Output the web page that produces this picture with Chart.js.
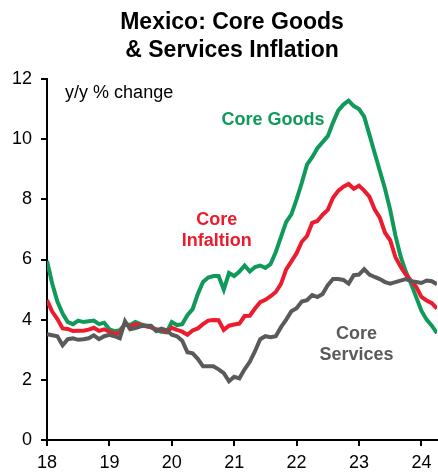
<!DOCTYPE html>
<html>
<head>
<meta charset="utf-8">
<script src="https://cdn.jsdelivr.net/npm/chart.js@4"></script>
<style>
  body { margin: 0; background: #fff; }
  #wrap { width: 438px; height: 472px; }
</style>
</head>
<body>
<div id="wrap"><canvas id="chart"></canvas></div>
<script>
// monthly, Jan 2018 .. Apr 2024 (y/y % change)
const startYear = 18;
const yearTicks = [18, 19, 20, 21, 22, 23, 24];
const yTicks = [0, 2, 4, 6, 8, 10, 12];

const coreGoods = [
  5.95, 5.20, 4.60, 4.20, 3.92, 3.85, 3.97, 3.92, 3.95, 3.97, 3.85, 3.90,
  3.68, 3.62, 3.65, 3.85, 3.82, 3.92, 3.85, 3.80, 3.75, 3.65, 3.60, 3.58,
  3.92, 3.82, 3.85, 4.15, 4.35, 4.85, 5.25, 5.40, 5.45, 5.45, 5.00, 5.55,
  5.45, 5.60, 5.80, 5.60, 5.75, 5.80, 5.72, 5.85, 6.25, 6.75, 7.25, 7.50,
  8.00, 8.55, 9.15, 9.40, 9.70, 9.90, 10.10, 10.55, 10.95, 11.15, 11.28, 11.10,
  11.00, 10.75, 10.15, 9.55, 8.95, 8.35, 7.65, 6.80, 6.10, 5.60, 5.20, 4.75,
  4.30, 4.00, 3.80, 3.55
];
const coreInflation = [
  4.65, 4.27, 4.02, 3.71, 3.69, 3.62, 3.63, 3.63, 3.67, 3.73, 3.63, 3.68,
  3.60, 3.54, 3.55, 3.87, 3.77, 3.85, 3.82, 3.78, 3.75, 3.68, 3.65, 3.59,
  3.73, 3.66, 3.60, 3.50, 3.64, 3.71, 3.85, 3.97, 3.99, 3.98, 3.66, 3.80,
  3.84, 3.87, 4.12, 4.13, 4.37, 4.58, 4.66, 4.78, 4.92, 5.19, 5.67, 5.94,
  6.21, 6.59, 6.78, 7.22, 7.28, 7.49, 7.65, 8.05, 8.28, 8.42, 8.51, 8.35,
  8.45, 8.29, 8.09, 7.67, 7.39, 6.89, 6.64, 6.08, 5.76, 5.50, 5.30, 5.09,
  4.76, 4.64, 4.55, 4.37
];
const coreServices = [
  3.52, 3.48, 3.45, 3.15, 3.35, 3.38, 3.33, 3.35, 3.38, 3.48, 3.35, 3.45,
  3.50, 3.45, 3.38, 3.95, 3.68, 3.72, 3.78, 3.80, 3.80, 3.62, 3.70, 3.65,
  3.50, 3.45, 3.30, 2.92, 2.88, 2.70, 2.45, 2.45, 2.45, 2.35, 2.22, 1.95,
  2.10, 2.05, 2.35, 2.60, 2.95, 3.35, 3.45, 3.42, 3.45, 3.75, 4.00, 4.28,
  4.38, 4.60, 4.65, 4.82, 4.75, 4.85, 5.15, 5.35, 5.35, 5.32, 5.20, 5.48,
  5.50, 5.68, 5.50, 5.42, 5.35, 5.25, 5.20, 5.25, 5.30, 5.35, 5.28, 5.25,
  5.22, 5.30, 5.28, 5.18
];

const GREEN = "#0F9A5A";
const RED = "#EC1C2E";
const GREY = "#5A5A5A";
const FONT = "'Liberation Sans', Arial, sans-serif";

function toPoints(values) {
  return values.map((v, i) => ({ x: startYear + i / 12, y: v }));
}

// text labels placed in data coordinates
const labels = [
  { lines: ["Core Goods"], x: 21.62, y: 10.64, color: GREEN },
  { lines: ["Core", "Infaltion"], x: 20.72, y: 7.31, color: RED },
  { lines: ["Core", "Services"], x: 22.96, y: 3.52, color: GREY }
];

const textPlugin = {
  id: "texts",
  afterDraw(chart) {
    const ctx = chart.ctx;
    const xs = chart.scales.x, ys = chart.scales.y;
    ctx.save();
    ctx.textBaseline = "middle";

    // title
    ctx.fillStyle = "#000";
    ctx.textAlign = "center";
    ctx.font = "bold 23px " + FONT;
    ctx.fillText("Mexico: Core Goods", 232, 23);
    ctx.fillText("& Services Inflation", 232, 51);

    // unit note
    ctx.textAlign = "left";
    ctx.font = "18px " + FONT;
    ctx.fillText("y/y % change", xs.getPixelForValue(18.29), ys.getPixelForValue(11.54));

    ctx.textAlign = "center";
    ctx.font = "bold 18px " + FONT;
    labels.forEach(l => {
      ctx.fillStyle = l.color;
      const px = xs.getPixelForValue(l.x);
      const py = ys.getPixelForValue(l.y);
      l.lines.forEach((t, k) => ctx.fillText(t, px, py + k * 21));
    });
    ctx.restore();
  }
};

const ctx = document.getElementById("chart").getContext("2d");
new Chart(ctx, {
  type: "line",
  data: {
    datasets: [
      { label: "Core Services", data: toPoints(coreServices), borderColor: GREY },
      { label: "Core Inflation", data: toPoints(coreInflation), borderColor: RED },
      { label: "Core Goods", data: toPoints(coreGoods), borderColor: GREEN }
    ].map(d => Object.assign(d, { borderWidth: 4, pointRadius: 0, tension: 0, fill: false }))
  },
  options: {
    responsive: true,
    maintainAspectRatio: false,
    animation: false,
    layout: { padding: { top: 79, right: 1, left: 0, bottom: 0 } },
    plugins: { legend: { display: false }, tooltip: { enabled: false } },
    scales: {
      x: {
        type: "linear",
        min: 18,
        max: startYear + (coreGoods.length - 1) / 12,
        afterBuildTicks: s => { s.ticks = yearTicks.map(v => ({ value: v })); },
        afterFit: s => { s.height = 32; },
        border: { display: true, color: "#000", width: 2 },
        grid: { drawOnChartArea: false, drawTicks: true, tickLength: 6, color: "#000", lineWidth: 2 },
        ticks: { color: "#000", font: { family: FONT, size: 18 }, padding: 6, maxRotation: 0 }
      },
      y: {
        min: 0,
        max: 12,
        afterBuildTicks: s => { s.ticks = yTicks.map(v => ({ value: v })); },
        afterFit: s => { s.width = 47; },
        border: { display: true, color: "#000", width: 2 },
        grid: { drawOnChartArea: false, drawTicks: true, tickLength: 6, color: "#000", lineWidth: 2 },
        ticks: { color: "#000", font: { family: FONT, size: 18 }, padding: 9 }
      }
    }
  },
  plugins: [textPlugin]
});
</script>
</body>
</html>
